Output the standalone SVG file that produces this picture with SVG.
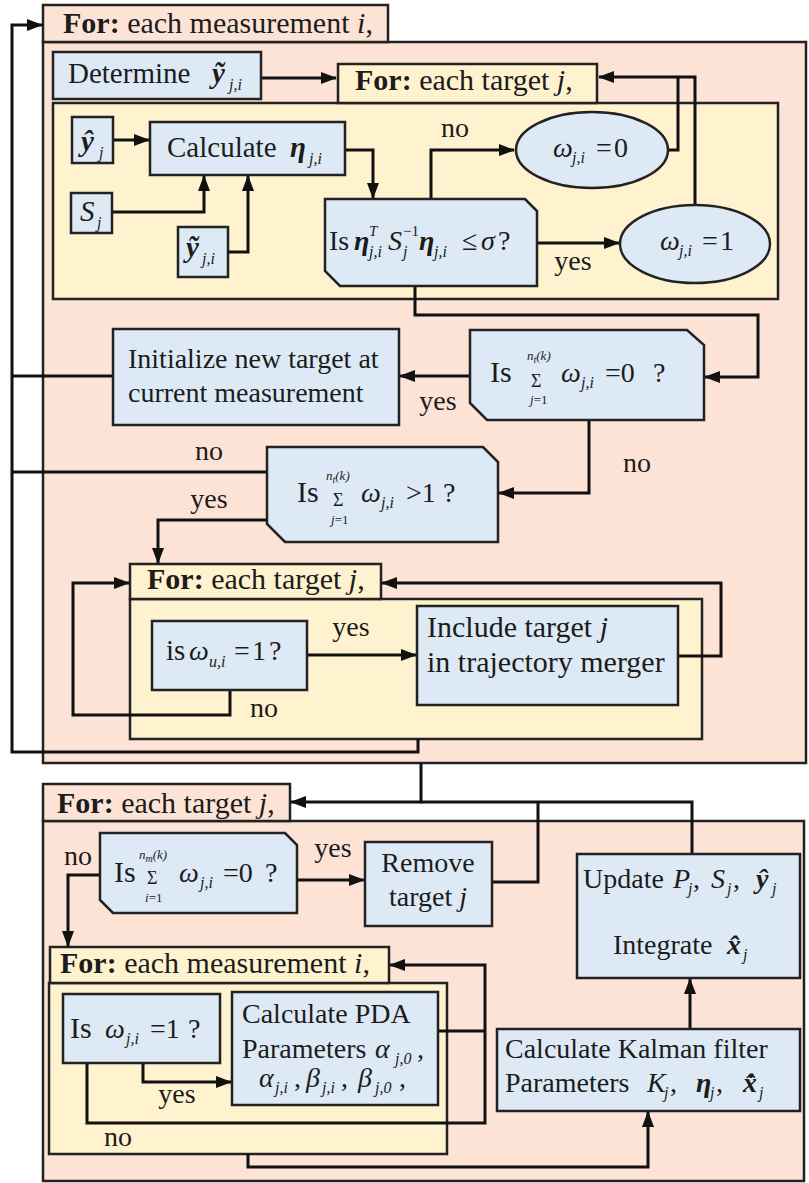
<svg xmlns="http://www.w3.org/2000/svg" width="809" height="1183" viewBox="0 0 809 1183" font-family="'Liberation Serif', 'Times New Roman', serif">
<defs>
<style>
.pk{fill:#FCE3D6;stroke:#222;stroke-width:2.5}
.yl{fill:#FFF2CE;stroke:#222;stroke-width:2.5}
.bl{fill:#DDEAF6;stroke:#222;stroke-width:2.5}
.cn{fill:none;stroke:#111;stroke-width:3;stroke-linejoin:miter}
.ar{marker-end:url(#ah)}
text{font-family:'Liberation Serif','Times New Roman',serif;fill:#1c1c1c}
.h{font-size:30px}
.m{font-size:29px}
.n{font-size:28px}
.s{font-size:16px;font-style:italic}
.sn{font-size:15px}
.lim{font-size:13px;font-style:italic}
.sg{font-size:18px}
.lb{font-size:28px;text-anchor:middle}
.b{font-weight:bold}
.i{font-style:italic}
.bi{font-weight:bold;font-style:italic}
</style>
<marker id="ah" markerWidth="16" markerHeight="12" refX="15" refY="6" orient="auto" markerUnits="userSpaceOnUse"><path d="M0,0 L16,6 L0,12 Z" fill="#111"/></marker>
</defs>
<rect x="0" y="0" width="809" height="1183" fill="#fff"/>

<g id="loop-measurement-outer">
<rect class="pk" x="43" y="42" width="763" height="721"/>
<rect class="pk" x="43" y="5" width="345" height="37"/>
<text class="h" x="63" y="33"><tspan class="b">For:</tspan> each measurement <tspan class="i">i</tspan>,</text>
</g>
<g id="loop-target-inner1">
<rect class="yl" x="53" y="103" width="725" height="196"/>
<rect class="yl" x="338" y="64" width="259" height="39"/>
<text class="h" x="355" y="90"><tspan class="b">For:</tspan> each target <tspan class="i">j</tspan>,</text>
</g>
<g id="loop-target-inner2">
<rect class="yl" x="130" y="599" width="572" height="140"/>
<rect class="yl" x="130" y="564" width="251" height="35"/>
<text class="h" x="147" y="589"><tspan class="b">For:</tspan> each target <tspan class="i">j</tspan>,</text>
</g>
<g id="loop-target-outer">
<rect class="pk" x="43" y="821" width="761" height="360"/>
<rect class="pk" x="43" y="784" width="247" height="37"/>
<text class="h" x="57" y="813"><tspan class="b">For:</tspan> each target <tspan class="i">j</tspan>,</text>
</g>
<g id="loop-measurement-inner">
<rect class="yl" x="49" y="983" width="398" height="171"/>
<rect class="yl" x="50" y="947" width="339" height="36"/>
<text class="h" x="60" y="973"><tspan class="b">For:</tspan> each measurement <tspan class="i">i</tspan>,</text>
</g>

<g id="connectors">
<path class="cn ar" d="M261,78 H336"/>
<path class="cn ar" d="M113,140 H149"/>
<path class="cn ar" d="M112,212 H204 V176"/>
<path class="cn ar" d="M228,252 H248 V176"/>
<path class="cn ar" d="M345,150 H373 V198"/>
<path class="cn ar" d="M431,199 V150 H514"/>
<path class="cn ar" d="M537,243 H619"/>
<path class="cn" d="M668,150 H678 V77"/>
<path class="cn ar" d="M695,205 V77 H599"/>
<path class="cn ar" d="M415,286 V315 H758 V377 H705"/>
<path class="cn ar" d="M470,376 H400"/>
<path class="cn" d="M113,376 H12"/>
<path class="cn ar" d="M589,420 V493 H499"/>
<path class="cn" d="M267,472 H12"/>
<path class="cn ar" d="M267,520 H158 V563"/>
<path class="cn ar" d="M307,655 H416"/>
<path class="cn ar" d="M678,656 H721 V583 H382"/>
<path class="cn ar" d="M230,690 V715 H73 V583 H129"/>
<path class="cn ar" d="M418,739 V752 H12 V25 H42"/>
<path class="cn ar" d="M421,763 V802 H291"/>
<path class="cn" d="M692,854 V802 H421"/>
<path class="cn" d="M492,882 H538 V802"/>
<path class="cn ar" d="M100,875 H68 V946"/>
<path class="cn ar" d="M297,880 H364"/>
<path class="cn ar" d="M143,1063 V1082 H231"/>
<path class="cn ar" d="M87,1063 V1123 H485 V965 H390"/>
<path class="cn" d="M438,1031 H485"/>
<path class="cn ar" d="M248,1154 V1167 H648 V1112"/>
<path class="cn ar" d="M690,1029 V979"/>
</g>

<g id="labels">
<text class="lb" x="455" y="137">no</text>
<text class="lb" x="573" y="270">yes</text>
<text class="lb" x="438" y="410">yes</text>
<text class="lb" x="637" y="472">no</text>
<text class="lb" x="209" y="460">no</text>
<text class="lb" x="209" y="508">yes</text>
<text class="lb" x="351" y="636">yes</text>
<text class="lb" x="264" y="717">no</text>
<text class="lb" x="78" y="865">no</text>
<text class="lb" x="333" y="857">yes</text>
<text class="lb" x="177" y="1103">yes</text>
<text class="lb" x="118" y="1146">no</text>
</g>

<g id="determine">
<rect class="bl" x="53" y="52" width="208" height="47"/>
<text class="m" x="68" y="83">Determine</text>
<text class="m bi" x="212" y="83">ỹ</text>
<text class="s" x="229" y="90">j,i</text>
</g>
<g id="yhat">
<rect class="bl" x="72" y="117" width="41" height="46"/>
<text class="m bi" x="81" y="151">ŷ</text>
<text class="s" x="99" y="158">j</text>
</g>
<g id="calc-eta">
<rect class="bl" x="150" y="122" width="195" height="53"/>
<text class="m" x="167" y="157">Calculate</text>
<text class="m bi" x="290" y="157">η</text>
<text class="s" x="309" y="164">j,i</text>
</g>
<g id="S">
<rect class="bl" x="71" y="193" width="41" height="40"/>
<text class="m i" x="80" y="221">S</text>
<text class="s" x="97" y="228">j</text>
</g>
<g id="ytilde">
<rect class="bl" x="178" y="227" width="50" height="50"/>
<text class="m bi" x="186" y="257">ỹ</text>
<text class="s" x="202" y="264">j,i</text>
</g>
<g id="gate-test">
<polygon class="bl" points="325,199 525,199 537,211 537,286 340,286 325,271"/>
<text class="n" x="329" y="250">Is</text>
<text class="n bi" x="354" y="250">η</text>
<text class="sn i" x="369" y="236">T</text>
<text class="s" x="369" y="257">j,i</text>
<text class="n i" x="388" y="250">S</text>
<text class="s" x="403" y="257">j</text>
<text class="sn" x="403" y="236">−1</text>
<text class="n bi" x="419" y="250">η</text>
<text class="s" x="434" y="257">j,i</text>
<text class="n" x="462" y="250">≤</text>
<text class="n i" x="481" y="250">σ</text>
<text class="n" x="498" y="250">?</text>
</g>
<g id="omega0">
<ellipse class="bl" cx="592" cy="150" rx="76" ry="38"/>
<text class="n i" x="553" y="157">ω</text>
<text class="s" x="572" y="163">j,i</text>
<text class="n" x="596" y="157">=</text>
<text class="n" x="614" y="157">0</text>
</g>
<g id="omega1">
<ellipse class="bl" cx="695" cy="244" rx="75" ry="39"/>
<text class="n i" x="660" y="250">ω</text>
<text class="s" x="679" y="256">j,i</text>
<text class="n" x="702" y="250">=</text>
<text class="n" x="720" y="250">1</text>
</g>
<g id="sum-zero">
<polygon class="bl" points="470,330 687,330 704,345 704,420 487,420 470,403"/>
<text class="h" x="490" y="382">Is</text>
<text class="sg" x="531" y="387">Σ</text>
<text class="lim" x="527" y="360">n<tspan font-size="10" dy="3">t</tspan><tspan dy="-3">(k)</tspan></text>
<text class="lim" x="530" y="404">j<tspan font-style="normal">=1</tspan></text>
<text class="n i" x="561" y="382">ω</text>
<text class="s" x="581" y="388">j,i</text>
<text class="n" x="605" y="382">=0</text>
<text class="n" x="653" y="382">?</text>
</g>
<g id="initialize">
<rect class="bl" x="113" y="329" width="286" height="96"/>
<text class="n" x="128" y="368">Initialize new target at</text>
<text class="n" x="128" y="402">current measurement</text>
</g>
<g id="sum-gt1">
<polygon class="bl" points="267,447 483,447 498,462 498,542 285,542 267,524"/>
<text class="h" x="297" y="502">Is</text>
<text class="sg" x="333" y="506">Σ</text>
<text class="lim" x="326" y="480">n<tspan font-size="10" dy="3">t</tspan><tspan dy="-3">(k)</tspan></text>
<text class="lim" x="331" y="524">j<tspan font-style="normal">=1</tspan></text>
<text class="n i" x="361" y="502">ω</text>
<text class="s" x="381" y="508">j,i</text>
<text class="n" x="406" y="502">&gt;1</text>
<text class="n" x="443" y="502">?</text>
</g>
<g id="is-omega-u">
<rect class="bl" x="152" y="621" width="155" height="69"/>
<text class="m" x="166" y="660">is</text>
<text class="n i" x="189" y="660">ω</text>
<text class="s" x="209" y="667">u,i</text>
<text class="n" x="234" y="660">=</text>
<text class="n" x="252" y="660">1</text>
<text class="n" x="269" y="660">?</text>
</g>
<g id="include">
<rect class="bl" x="417" y="606" width="261" height="99"/>
<text class="h" x="427" y="637">Include target <tspan class="i">j</tspan></text>
<text class="h" x="427" y="672">in trajectory merger</text>
</g>
<g id="sum-meas-zero">
<polygon class="bl" points="100,833 285,833 297,845 297,913 113,913 100,900"/>
<text class="h" x="114" y="882">Is</text>
<text class="sg" x="147" y="884">Σ</text>
<text class="lim" x="139" y="859">n<tspan font-size="10" dy="3">m</tspan><tspan dy="-3">(k)</tspan></text>
<text class="lim" x="145" y="902">i<tspan font-style="normal">=1</tspan></text>
<text class="n i" x="179" y="882">ω</text>
<text class="s" x="200" y="888">j,i</text>
<text class="n" x="223" y="882">=0</text>
<text class="n" x="265" y="882">?</text>
</g>
<g id="remove">
<rect class="bl" x="365" y="842" width="127" height="84"/>
<text class="n" x="428" y="872" text-anchor="middle">Remove</text>
<text class="n" x="428" y="906" text-anchor="middle">target <tspan class="i">j</tspan></text>
</g>
<g id="update">
<rect class="bl" x="577" y="854" width="223" height="124"/>
<text class="n" x="583" y="888">Update</text>
<text class="n i" x="673" y="888">P</text>
<text class="s" x="688" y="894">j</text>
<text class="n" x="693" y="888">,</text>
<text class="n i" x="711" y="888">S</text>
<text class="s" x="727" y="894">j</text>
<text class="n" x="733" y="888">,</text>
<text class="n bi" x="756" y="888">ŷ</text>
<text class="s" x="772" y="894">j</text>
<text class="n" x="613" y="954">Integrate</text>
<text class="n bi" x="727" y="954">x̂</text>
<text class="s" x="743" y="960">j</text>
</g>
<g id="kalman">
<rect class="bl" x="497" y="1029" width="303" height="82"/>
<text class="n" x="505" y="1058">Calculate Kalman filter</text>
<text class="n" x="505" y="1092">Parameters</text>
<text class="n i" x="647" y="1092">K</text>
<text class="s" x="664" y="1098">j</text>
<text class="n" x="670" y="1092">,</text>
<text class="n bi" x="696" y="1092">η</text>
<text class="s" x="710" y="1098">j</text>
<text class="n" x="716" y="1092">,</text>
<text class="n bi" x="743" y="1092">x̂̇</text>
<text class="s" x="759" y="1098">j</text>
</g>
<g id="is-omega-ji">
<rect class="bl" x="63" y="994" width="157" height="69"/>
<text class="h" x="70" y="1038" font-size="32">Is</text>
<text class="n i" x="105" y="1038">ω</text>
<text class="s" x="126" y="1044">j,i</text>
<text class="n" x="150" y="1038">=1</text>
<text class="n" x="188" y="1038">?</text>
</g>
<g id="pda">
<rect class="bl" x="232" y="992" width="206" height="113"/>
<text class="n" x="242" y="1023">Calculate PDA</text>
<text class="n" x="242" y="1058">Parameters</text>
<text class="n i" x="375" y="1058">α</text>
<text class="s" x="395" y="1064">j,0</text>
<text class="n" x="417" y="1058">,</text>
<text class="n i" x="259" y="1087">α</text>
<text class="s" x="275" y="1093">j,i</text>
<text class="n" x="294" y="1087">,</text>
<text class="n i" x="306" y="1087">β</text>
<text class="s" x="322" y="1093">j,i</text>
<text class="n" x="341" y="1087">,</text>
<text class="n i" x="358" y="1087">β</text>
<text class="s" x="375" y="1093">j,0</text>
<text class="n" x="399" y="1087">,</text>
</g>
</svg>
